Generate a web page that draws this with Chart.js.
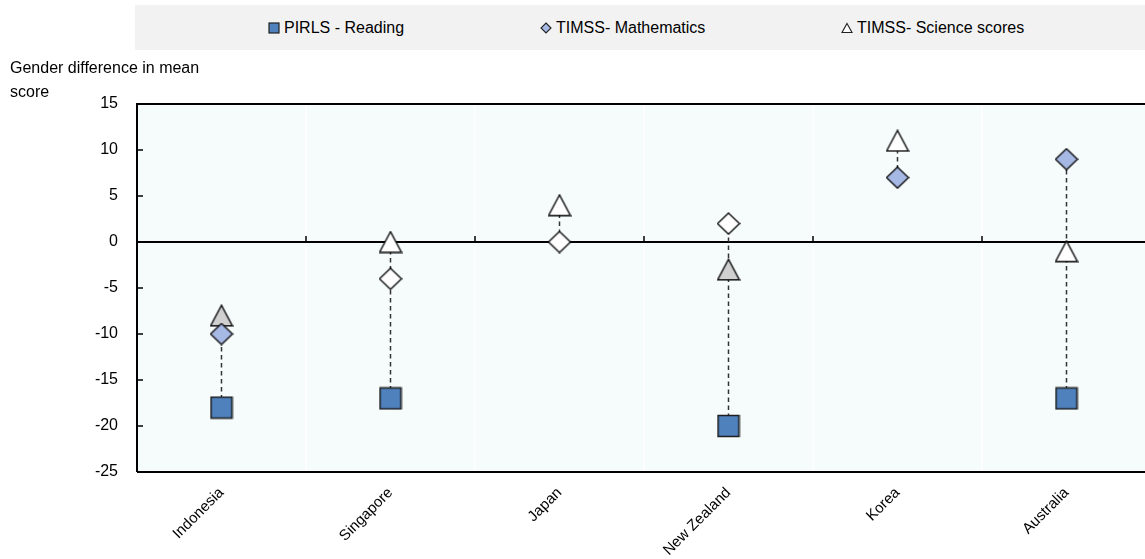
<!DOCTYPE html>
<html>
<head>
<meta charset="utf-8">
<script src="https://cdn.jsdelivr.net/npm/chart.js@4.4.0/dist/chart.umd.min.js"></script>
<style>
html,body{margin:0;padding:0;background:#fff;overflow:hidden;width:1145px;height:559px;}
#wrap{position:relative;width:1145px;height:559px;overflow:hidden;font-family:"Liberation Sans",Arial,sans-serif;color:#000;}
#c{position:absolute;left:0;top:0;}
#legend{position:absolute;left:135px;top:5px;width:1010px;height:45px;background:#f2f2f2;}
.item{position:absolute;top:0;height:45px;line-height:45px;font-size:16px;white-space:nowrap;}
.item svg{vertical-align:middle;margin-right:4px;position:relative;top:-1px;}
#ytitle{position:absolute;left:10px;top:56px;font-size:16px;line-height:24px;}
</style>
</head>
<body>
<div id="wrap">
  <canvas id="c" width="1151" height="559"></canvas>
  <div id="legend">
    <div class="item" style="left:133px"><svg width="12" height="12"><rect x="1" y="1" width="10" height="10" fill="#4f81bd" stroke="#222" stroke-width="1.2"/></svg>PIRLS - Reading</div>
    <div class="item" style="left:405px"><svg width="12" height="12"><polygon points="6,1 11,6 6,11 1,6" fill="#a6b8e4" stroke="#222" stroke-width="1.1"/></svg>TIMSS- Mathematics</div>
    <div class="item" style="left:706px"><svg width="12" height="12"><polygon points="6,1.5 11,10.5 1,10.5" fill="#fff" stroke="#222" stroke-width="1.1"/></svg>TIMSS- Science scores</div>
  </div>
  <div id="ytitle">Gender difference in mean<br>score</div>
</div>
<script>
// ---- data ----
const categories = ['Indonesia', 'Singapore', 'Japan', 'New Zealand', 'Korea', 'Australia'];
const pirlsReading = [-18, -17, null, -20, null, -17];
const timssMath = [-10, -4, 0, 2, 7, 9];
const timssScience = [-8, 0, 4, -3, 11, -1];
const mathSignificant = [true, false, false, false, true, true];
const scienceSignificant = [true, false, false, true, false, false];
const yTicks = [15, 10, 5, 0, -5, -10, -15, -20, -25];

// ---- marker images ----
function mk(w, h, draw) {
  const c = document.createElement('canvas');
  c.width = w; c.height = h;
  const g = c.getContext('2d');
  draw(g);
  return c;
}
function square(fill) {
  return mk(24, 24, g => {
    g.fillStyle = fill; g.strokeStyle = '#1e1e1e'; g.lineWidth = 1.6;
    g.beginPath(); g.rect(1.5, 1.5, 21, 21); g.fill(); g.stroke();
  });
}
function diamond(fill) {
  return mk(24, 23, g => {
    g.fillStyle = fill; g.strokeStyle = '#111'; g.lineWidth = 1.4;
    g.beginPath(); g.moveTo(12, 1); g.lineTo(23, 11.5); g.lineTo(12, 22); g.lineTo(1, 11.5); g.closePath();
    g.fill(); g.stroke();
  });
}
function triangle(fill) {
  return mk(24, 23, g => {
    g.fillStyle = fill; g.strokeStyle = '#111'; g.lineWidth = 1.4; g.lineJoin = 'miter';
    g.beginPath(); g.moveTo(12, 1.2); g.lineTo(23, 21.8); g.lineTo(1, 21.8); g.closePath();
    g.fill(); g.stroke();
  });
}
const sqImg = square('#4f81bd');
const diaFilled = diamond('#a6b8e4'), diaEmpty = diamond('#ffffff');
const triFilled = triangle('#d0d0d0'), triEmpty = triangle('#ffffff');

const BG = '#f6fcfc';

const decorPlugin = {
  id: 'decor',
  beforeDraw(chart) {
    const { ctx, chartArea: a } = chart;
    ctx.save();
    ctx.fillStyle = BG;
    ctx.fillRect(a.left, a.top, a.right - a.left, a.bottom - a.top);
    // faint category separators
    const xs = chart.scales.x;
    ctx.strokeStyle = '#fcfefe'; ctx.lineWidth = 2;
    for (let i = 1; i < categories.length; i++) {
      const x = (xs.getPixelForValue(i - 1) + xs.getPixelForValue(i)) / 2;
      ctx.beginPath(); ctx.moveTo(x, a.top); ctx.lineTo(x, a.bottom); ctx.stroke();
    }
    ctx.restore();
  },
  beforeDatasetsDraw(chart) {
    const { ctx, chartArea: a } = chart;
    const xs = chart.scales.x, ys = chart.scales.y;
    ctx.save();
    ctx.strokeStyle = '#000';
    // frame: left, top, bottom
    ctx.lineWidth = 2;
    ctx.beginPath();
    ctx.moveTo(a.left, a.bottom); ctx.lineTo(a.left, a.top); ctx.lineTo(a.right, a.top);
    ctx.moveTo(a.left, a.bottom); ctx.lineTo(a.right, a.bottom);
    ctx.stroke();
    // zero line
    const y0 = ys.getPixelForValue(0);
    ctx.lineWidth = 2;
    ctx.beginPath(); ctx.moveTo(a.left, y0); ctx.lineTo(a.right, y0); ctx.stroke();
    // y tick marks (inside)
    ctx.lineWidth = 1.5;
    yTicks.forEach(v => {
      const y = ys.getPixelForValue(v);
      ctx.beginPath(); ctx.moveTo(a.left, y); ctx.lineTo(a.left + 6, y); ctx.stroke();
    });
    // x tick marks on the zero line, between categories
    for (let i = 1; i < categories.length; i++) {
      const x = (xs.getPixelForValue(i - 1) + xs.getPixelForValue(i)) / 2;
      ctx.beginPath(); ctx.moveTo(x, y0); ctx.lineTo(x, y0 - 6); ctx.stroke();
    }
    // dashed connectors
    ctx.strokeStyle = '#333'; ctx.lineWidth = 1.5; ctx.setLineDash([4.5, 3.5]);
    categories.forEach((c, i) => {
      const vals = [pirlsReading[i], timssMath[i], timssScience[i]].filter(v => v !== null && v !== undefined);
      const mn = Math.min(...vals), mx = Math.max(...vals);
      const x = xs.getPixelForValue(i);
      ctx.beginPath(); ctx.moveTo(x, ys.getPixelForValue(mn)); ctx.lineTo(x, ys.getPixelForValue(mx)); ctx.stroke();
    });
    ctx.restore();
  }
};

new Chart(document.getElementById('c'), {
  type: 'line',
  data: {
    labels: categories,
    datasets: [
      { label: 'PIRLS - Reading', data: pirlsReading, showLine: false, pointStyle: sqImg, pointRadius: 11 },
      { label: 'TIMSS- Mathematics', data: timssMath, showLine: false, pointStyle: mathSignificant.map(s => s ? diaFilled : diaEmpty), pointRadius: 11 },
      { label: 'TIMSS- Science scores', data: timssScience, showLine: false, pointStyle: scienceSignificant.map(s => s ? triFilled : triEmpty), pointRadius: 11 }
    ]
  },
  options: {
    responsive: false,
    animation: false,
    events: [],
    layout: { autoPadding: false, padding: { top: 104, left: 0, right: 0, bottom: 0 } },
    plugins: { legend: { display: false }, title: { display: false }, tooltip: { enabled: false } },
    scales: {
      x: {
        type: 'category',
        offset: true,
        grid: { display: false },
        border: { display: false },
        ticks: { maxRotation: 45, minRotation: 45, color: '#000', padding: 4, font: { family: '"Liberation Sans", Arial, sans-serif', size: 15 } },
        afterFit(s) { s.height = 87; s.paddingLeft = 0; s.paddingRight = 0; }
      },
      y: {
        min: -25, max: 15,
        ticks: { stepSize: 5, color: '#000', padding: 19, font: { family: '"Liberation Sans", Arial, sans-serif', size: 16 } },
        grid: { drawOnChartArea: false, drawTicks: false },
        border: { display: false },
        afterFit(s) { s.width = 137; s.paddingTop = 0; s.paddingBottom = 0; }
      }
    }
  },
  plugins: [decorPlugin]
});
</script>
</body>
</html>
